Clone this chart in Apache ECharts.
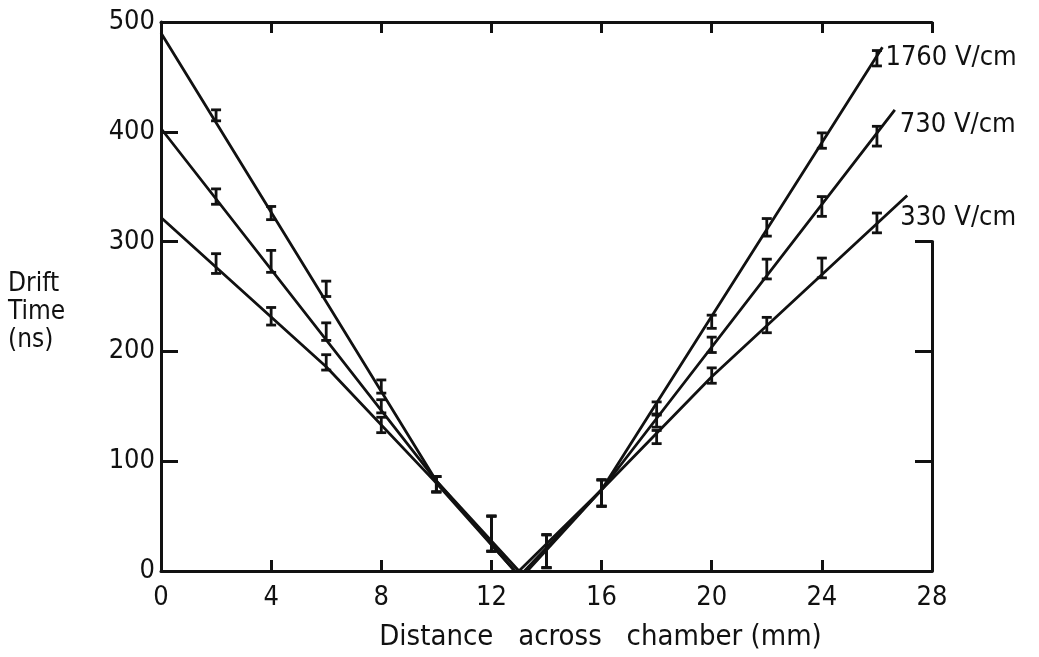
<!DOCTYPE html>
<html>
<head>
<meta charset="utf-8">
<script src="https://cdn.jsdelivr.net/npm/echarts@6/dist/echarts.min.js"></script>
<style>
html,body{margin:0;padding:0;background:#fff;}
#chart{width:1039px;height:657px;}
</style>
</head>
<body>
<div id="chart"></div>
<script>
// ---- data ----
var xPts = [2, 4, 6, 8, 10, 12, 14, 16, 18, 20, 22, 24, 26];
var t1760 = [415, 326, 257, 168, 79, 34, 18, 71, 148, 227, 313, 392, 467];
var e1760 = [5, 6, 7, 6, 7, 16, 15, 12, 6, 6, 8, 7, 7];
var t730 = [341, 282, 218, 150, 79, 34, 18, 71, 137, 206, 275, 332, 396];
var e730 = [7, 10, 8, 6, 7, 16, 15, 12, 6, 7, 9, 9, 9];
var t330 = [280, 232, 190, 133, 79, 34, 18, 71, 122, 178, 224, 276, 317];
var e330 = [9, 8, 7, 7, 7, 16, 15, 12, 6, 7, 7, 9, 9];

// drawn guide lines
var fit1760L = [[0, 490], [10, 82], [13.0, 0]];
var fit1760R = [[13.0, 0], [16, 74], [26.2, 477]];
var fit730L = [[0, 403], [10, 82], [12.85, 0]];
var fit730R = [[13.2, 0], [16, 74], [26.65, 420]];
var fit330L = [[0, 322], [6, 186], [10, 80], [12.85, 0]];
var fit330R = [[13.3, 0], [16, 74], [20, 177], [27.1, 342]];

var seriesNames = ['1760 V/cm', '730 V/cm', '330 V/cm'];
var xTicks = [0, 4, 8, 12, 16, 20, 24, 28];
var yTicks = [0, 100, 200, 300, 400, 500];
var xTitle = 'Distance   across   chamber (mm)';
var yTitle = 'Drift\nTime\n(ns)';

var FONT = "'DejaVu Sans Condensed', 'DejaVu Sans', sans-serif";
var INK = '#111';

function errData(vals, errs) {
  return xPts.map(function (x, i) { return [x, vals[i] - errs[i], vals[i] + errs[i]]; });
}
function errSeries(vals, errs) {
  return {
    type: 'custom',
    xAxisIndex: 0, yAxisIndex: 0,
    silent: true,
    z: 5,
    data: errData(vals, errs),
    renderItem: function (params, api) {
      var lo = api.coord([api.value(0), api.value(1)]);
      var hi = api.coord([api.value(0), api.value(2)]);
      var w = 5;
      var st = { stroke: INK, lineWidth: 2.8 };
      return {
        type: 'group',
        children: [
          { type: 'line', shape: { x1: lo[0], y1: lo[1], x2: hi[0], y2: hi[1] }, style: st },
          { type: 'line', shape: { x1: lo[0] - w, y1: lo[1], x2: lo[0] + w, y2: lo[1] }, style: st },
          { type: 'line', shape: { x1: hi[0] - w, y1: hi[1], x2: hi[0] + w, y2: hi[1] }, style: st }
        ]
      };
    }
  };
}
function fitSeries(name, data, label, offset) {
  var s = {
    name: name,
    type: 'line',
    xAxisIndex: 0, yAxisIndex: 0,
    data: data,
    symbol: 'none',
    silent: true,
    lineStyle: { color: INK, width: 2.8 },
    z: 4
  };
  if (label) {
    s.endLabel = {
      show: true,
      formatter: name,
      color: INK,
      fontFamily: FONT,
      fontSize: 27,
      offset: offset,
      distance: 3
    };
  }
  return s;
}

var chart = echarts.init(document.getElementById('chart'), null, { renderer: 'canvas' });
var axisLine = { show: true, onZero: false, lineStyle: { color: INK, width: 3 } };
var option = {
  backgroundColor: '#fff',
  animation: false,
  textStyle: { fontFamily: FONT },
  grid: [
    { left: 161, right: 107, top: 22, bottom: 86 },
    { left: 161, right: 107, top: 241.6, bottom: 86 }
  ],
  xAxis: [
    {
      gridIndex: 0, type: 'value', min: 0, max: 28, interval: 4, position: 'bottom',
      axisLine: axisLine,
      axisTick: { show: true, inside: true, length: 11, lineStyle: { color: INK, width: 3 } },
      axisLabel: { color: INK, fontSize: 27, fontFamily: FONT, margin: 13,
        formatter: function (v) { return xTicks.indexOf(v) >= 0 ? String(v) : ''; } },
      splitLine: { show: false },
      name: xTitle, nameLocation: 'middle', nameGap: 52,
      nameTextStyle: { color: INK, fontSize: 29, fontFamily: FONT, padding: [0, 0, 0, 108] }
    },
    {
      gridIndex: 0, type: 'value', min: 0, max: 28, interval: 4, position: 'top',
      axisLine: axisLine,
      axisTick: { show: true, inside: true, length: 11, lineStyle: { color: INK, width: 3 } },
      axisLabel: { show: false },
      splitLine: { show: false }
    },
    {
      gridIndex: 1, type: 'value', min: 0, max: 28, show: false
    }
  ],
  yAxis: [
    {
      gridIndex: 0, type: 'value', min: 0, max: 500, interval: 100, position: 'left',
      axisLine: axisLine,
      axisTick: { show: true, inside: true, length: 17, lineStyle: { color: INK, width: 3 } },
      axisLabel: { color: INK, fontSize: 27, fontFamily: FONT, margin: 6,
        formatter: function (v) { return yTicks.indexOf(v) >= 0 ? String(v) : ''; } },
      splitLine: { show: false }
    },
    {
      gridIndex: 1, type: 'value', min: 0, max: 300, interval: 100, position: 'right',
      axisLine: axisLine,
      axisTick: { show: true, inside: true, length: 17, lineStyle: { color: INK, width: 3 } },
      axisLabel: { show: false },
      splitLine: { show: false }
    }
  ],
  graphic: [
    {
      type: 'text', left: 8, top: 270,
      style: { text: yTitle, fill: INK, font: '26px ' + FONT, lineHeight: 28, textAlign: 'left' }
    }
  ],
  series: [
    fitSeries(seriesNames[0], fit1760L, false),
    fitSeries(seriesNames[0], fit1760R, true, [0, 11]),
    fitSeries(seriesNames[1], fit730L, false),
    fitSeries(seriesNames[1], fit730R, true, [2, 15]),
    fitSeries(seriesNames[2], fit330L, false),
    fitSeries(seriesNames[2], fit330R, true, [-10, 23]),
    errSeries(t1760, e1760),
    errSeries(t730, e730),
    errSeries(t330, e330),
    { type: 'line', xAxisIndex: 2, yAxisIndex: 1, data: [], silent: true }
  ]
};
chart.setOption(option);
</script>
</body>
</html>
